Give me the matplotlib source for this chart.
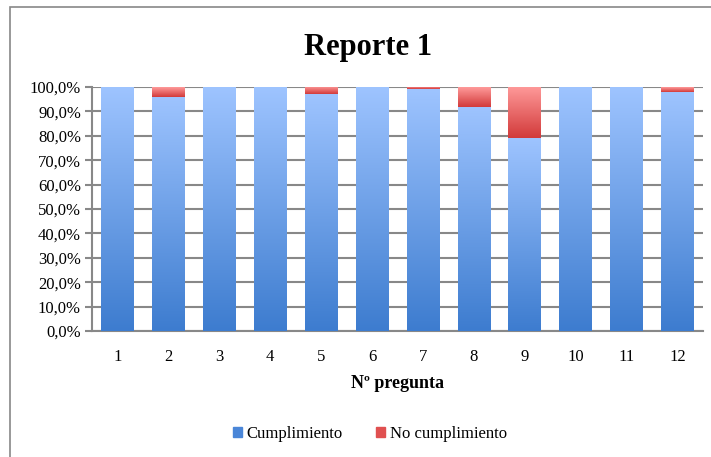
import matplotlib
matplotlib.use("Agg")
import matplotlib.pyplot as plt
import numpy as np
from matplotlib.patches import Rectangle
from matplotlib.ticker import FuncFormatter

categories = ["1", "2", "3", "4", "5", "6", "7", "8", "9", "10", "11", "12"]
cumplimiento = [100, 96, 100, 100, 97, 100, 99, 92, 79, 100, 100, 98]
no_cumplimiento = [0, 4, 0, 0, 3, 0, 1, 8, 21, 0, 0, 2]

plt.rcParams['font.family'] = ['Liberation Serif', 'DejaVu Serif']

fig = plt.figure(figsize=(7.11, 4.57), dpi=100)
ax = fig.add_axes([92/711, 126/457, 611/711, 244/457])

x = np.arange(len(categories))
width = 0.64

def grad_cmap(top, bottom):
    from matplotlib.colors import LinearSegmentedColormap
    return LinearSegmentedColormap.from_list("g", [bottom, top])

blue_cmap = grad_cmap("#9EC4FF", "#3D7CCF")
red_cmap = grad_cmap("#FF9A9A", "#D23A3A")

grad = np.linspace(0, 1, 256).reshape(-1, 1)

b1 = ax.bar(x, cumplimiento, width, color="#7AA8EE", label="Cumplimiento", zorder=3)
b2 = ax.bar(x, no_cumplimiento, width, bottom=cumplimiento, color="#E06060",
            label="No cumplimiento", zorder=3)

for bars, cmap in ((b1, blue_cmap), (b2, red_cmap)):
    for r in bars:
        h = r.get_height()
        if h <= 0:
            continue
        x0, y0, w = r.get_x(), r.get_y(), r.get_width()
        im = ax.imshow(grad, cmap=cmap, origin="lower", aspect="auto",
                       extent=[x0, x0 + w, y0, y0 + h], zorder=4)
        im.set_clip_path(r)
        r.set_facecolor("none")
        r.set_edgecolor("none")

ax.set_xlim(-0.5, len(categories) - 0.5)
ax.set_ylim(0, 100)
ax.set_yticks(np.arange(0, 101, 10))
ax.yaxis.set_major_formatter(FuncFormatter(lambda v, p: f"{v:.1f}%".replace(".", ",")))
ax.set_xticks(x)
ax.set_xticklabels(categories)
ax.tick_params(axis="x", length=0, pad=13, labelsize=12)
ax.tick_params(axis="y", length=5, width=1.5, color="#888888", labelsize=12, pad=3)
ax.grid(axis="y", color="#888888", linewidth=1.5, zorder=1)
for s in ["top", "right"]:
    ax.spines[s].set_visible(False)
for s in ["left", "bottom"]:
    ax.spines[s].set_color("#888888")
    ax.spines[s].set_linewidth(1.5)

ax.set_xlabel("Nº pregunta", fontsize=13, fontweight="bold", labelpad=7)
fig.text(368/711, 1 - 47/457, "Reporte 1", ha="center", va="center",
         fontsize=22, fontweight="bold")

leg = fig.legend(handles=[Rectangle((0, 0), 1, 1, color="#4A86D8"),
                          Rectangle((0, 0), 1, 1, color="#E05050")],
                 labels=["Cumplimiento", "No cumplimiento"],
                 loc="center", bbox_to_anchor=(370/711, 1 - 434/457), ncol=2,
                 frameon=False, fontsize=12, handlelength=0.5, handleheight=0.5,
                 handletextpad=0.3, columnspacing=2.0)

fig.patches.append(Rectangle((10/711, -0.05), 1.2, 1 - 7/457 + 0.05,
                             transform=fig.transFigure, fill=False,
                             edgecolor="#888888", linewidth=1.2))

fig.savefig("out.png", dpi=100)
